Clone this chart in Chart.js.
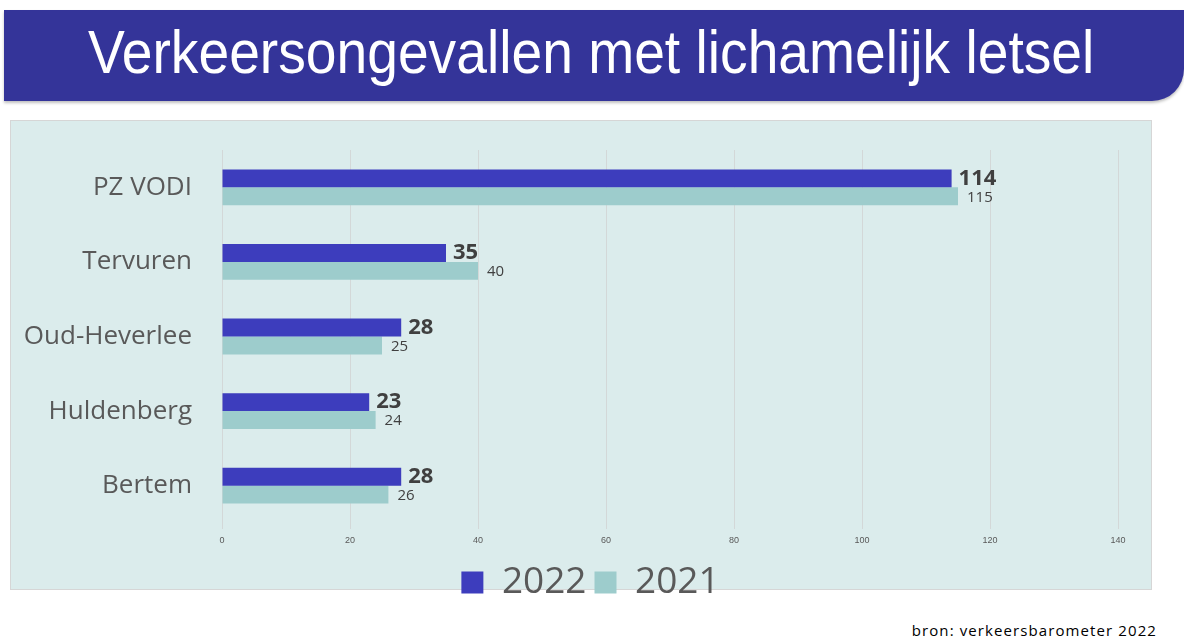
<!DOCTYPE html>
<html>
<head>
<meta charset="utf-8">
<script src="https://cdn.jsdelivr.net/npm/chart.js@4"></script>
<style>
  body { margin: 0; width: 1184px; height: 637px; background: #ffffff; position: relative; overflow: hidden; }
  #banner {
    position: absolute; left: 4px; top: 10px; width: 1180px; height: 91px;
    background: #343499; border-bottom-right-radius: 32px;
    box-shadow: 0 2px 3px rgba(0,0,0,0.25);
  }
  #banner h1 {
    margin: 0; position: absolute; left: 84px; top: 11px;
    font-family: "Liberation Sans", Arial, sans-serif;
    font-weight: normal; font-size: 62px; line-height: 62px; color: #ffffff;
    white-space: nowrap; transform-origin: 0 0;
  }
  #panel {
    position: absolute; left: 10px; top: 120px; width: 1140px; height: 468px;
    background: #dbecec; border: 1px solid #d6d6d6;
  }
  #chart { position: absolute; left: 0; top: 0; }
  #source {
    position: absolute; right: 27px; top: 620px;
    font-family: "Open Sans", sans-serif; font-size: 15px; color: #000; letter-spacing: 1.1px;
  }
</style>
</head>
<body>
<div id="banner"><h1 id="title">Verkeersongevallen met lichamelijk letsel</h1></div>
<div id="panel"><canvas id="chart" width="1140" height="490"></canvas></div>
<div id="source">bron: verkeersbarometer 2022</div>
<script>
// chart data
const categories = ['PZ VODI', 'Tervuren', 'Oud-Heverlee', 'Huldenberg', 'Bertem'];
const values2022 = [114, 35, 28, 23, 28];
const values2021 = [115, 40, 25, 24, 26];
const xTicks = [0, 20, 40, 60, 80, 100, 120, 140];

// squeeze the title into the banner width like the original slide
const title = document.getElementById('title');
title.style.transform = 'scaleX(' + (1006 / title.offsetWidth) + ')';

// draw the value next to each bar
const barLabels = {
  id: 'barLabels',
  afterDatasetsDraw(chart) {
    const ctx = chart.ctx;
    chart.data.datasets.forEach((ds, i) => {
      const meta = chart.getDatasetMeta(i);
      ctx.save();
      ctx.fillStyle = '#404040';
      ctx.textBaseline = 'middle';
      ctx.font = i === 0 ? 'bold 22px "Open Sans", sans-serif' : '15px "Open Sans", sans-serif';
      meta.data.forEach((bar, j) => {
        ctx.fillText(ds.data[j], bar.x + (i === 0 ? 7 : 9), bar.y + (i === 0 ? 0 : 1));
      });
      ctx.restore();
    });
  }
};

// the legend sits a bit right of the canvas centre in the original
const legendShift = {
  id: 'legendShift',
  afterLayout(chart) {
    chart.legend.left += 26;
    chart.legend.right += 26;
  }
};

const chartCanvas = document.getElementById('chart').getContext('2d');

const chart = new Chart(chartCanvas, {
  type: 'bar',
  data: {
    labels: categories,
    datasets: [{
      label: '2022',
      data: values2022,
      backgroundColor: '#3d3dbd'
    }, {
      label: '2021',
      data: values2021,
      backgroundColor: '#9dcccc'
    }]
  },
  options: {
    indexAxis: 'y',
    responsive: false,
    animation: false,
    categoryPercentage: 0.48,
    barPercentage: 1,
    layout: {
      padding: { top: 29, right: 33, bottom: 0, left: 0 }
    },
    scales: {
      x: {
        min: 0,
        max: 140,
        afterBuildTicks: (axis) => { axis.ticks = xTicks.map(v => ({ value: v })); },
        afterFit: (axis) => { axis.height = 33; },
        grid: { color: '#d3d8d8', lineWidth: 1, drawTicks: true, tickLength: 6 },
        border: { display: false },
        ticks: {
          color: '#595959',
          font: { family: '"Liberation Sans", sans-serif', size: 9 },
          padding: 6
        }
      },
      y: {
        grid: { display: false },
        border: { display: false },
        afterFit: (axis) => {
          axis.width = 211;
          axis.paddingTop = 0;
          axis.paddingBottom = 0;
        },
        ticks: {
          color: '#595959',
          font: { family: '"Open Sans", sans-serif', size: 26 },
          padding: 22
        }
      }
    },
    plugins: {
      legend: {
        position: 'bottom',
        labels: {
          color: '#595959',
          boxWidth: 22,
          boxHeight: 22,
          padding: 8,
          font: { family: '"Open Sans", sans-serif', size: 37 }
        }
      },
      tooltip: { enabled: false }
    }
  },
  plugins: [barLabels, legendShift]
});
</script>
</body>
</html>
